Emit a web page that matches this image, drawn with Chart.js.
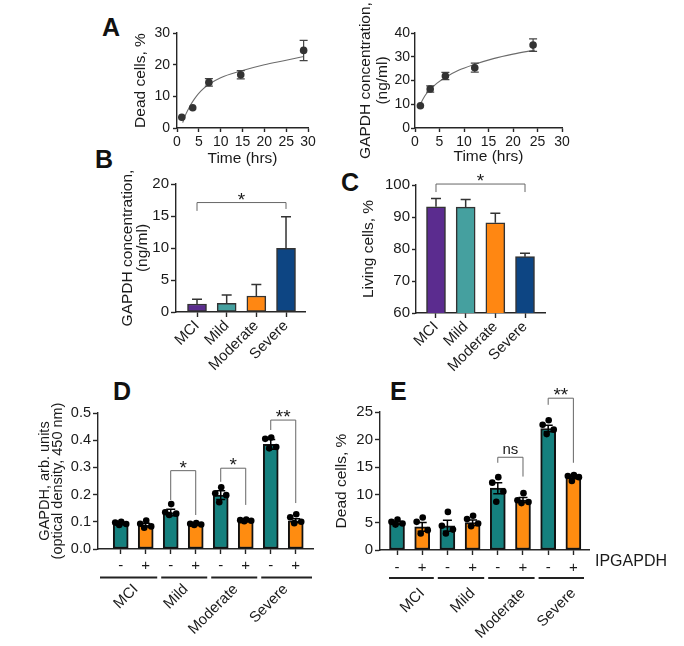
<!DOCTYPE html>
<html>
<head>
<meta charset="utf-8">
<script src="https://cdn.jsdelivr.net/npm/chart.js@4.4.1/dist/chart.umd.min.js"></script>
<style>
  body { margin:0; width:684px; height:646px; background:#fff; position:relative; overflow:hidden; }
  canvas { position:absolute; }
  .tag { position:absolute; font:bold 25px 'Liberation Sans', Arial, sans-serif; line-height:25px; color:#111; }
</style>
</head>
<body>
<div class="tag" style="left:102px;top:15px">A</div>
<div class="tag" style="left:95px;top:147px">B</div>
<div class="tag" style="left:341px;top:170px">C</div>
<div class="tag" style="left:113px;top:379px">D</div>
<div class="tag" style="left:390px;top:379px">E</div>
<canvas id="a1"></canvas>
<canvas id="a2"></canvas>
<canvas id="b"></canvas>
<canvas id="c"></canvas>
<canvas id="d"></canvas>
<canvas id="e"></canvas>
<script>
// ---- values ----
const timeA1 = [1.1, 3.6, 7.3, 14.6, 29.0];
const deadA1 = [3.4, 6.4, 14.4, 16.8, 24.5];
const deadA1Sem = [0, 0, 1.2, 1.3, 3.2];
const fitTimeA1 = [1.3, 2, 3, 4, 5.5, 7.3, 10, 14.6, 20, 25, 29];
const fitDeadA1 = [1.7, 4.3, 7.0, 9.2, 11.7, 13.8, 15.9, 18.0, 20.0, 21.4, 22.6];

const timeA2 = [1.1, 3.1, 6.2, 12.2, 24.1];
const gapdhA2 = [9.4, 16.4, 21.9, 25.4, 34.9];
const gapdhA2Sem = [0, 1.3, 1.5, 1.9, 2.6];
const fitTimeA2 = [0.9, 2, 3, 4.5, 6.2, 9, 12.2, 16, 20, 24.5];
const fitGapdhA2 = [9.3, 13.5, 16.0, 18.9, 21.3, 24.4, 26.8, 29.2, 31.1, 32.8];

const stages = ['MCI', 'Mild', 'Moderate', 'Severe'];
const gapdhB = [1.25, 1.35, 2.5, 9.95];
const gapdhBSd = [0.75, 1.3, 1.8, 4.95];
const livingC = [93.2, 93.1, 88.2, 77.6];
const livingCSd = [2.6, 2.4, 3.0, 1.1];

const ipgapdh = ['-', '+', '-', '+', '-', '+', '-', '+'];
const gapdhD = [0.093, 0.088, 0.134, 0.091, 0.198, 0.104, 0.385, 0.104];
const gapdhDSem = [0.004, 0.007, 0.012, 0.002, 0.016, 0.002, 0.018, 0.007];
const gapdhDPts = [
  [0.1, 0.097, 0.092, 0.088], [0.105, 0.093, 0.083, 0.078],
  [0.165, 0.135, 0.13, 0.125], [0.095, 0.093, 0.09, 0.088],
  [0.227, 0.205, 0.198, 0.172], [0.108, 0.106, 0.104, 0.102],
  [0.41, 0.405, 0.375, 0.37], [0.128, 0.117, 0.1, 0.095]
];
const deadE = [4.9, 4.2, 4.4, 4.95, 11.2, 9.05, 22.0, 13.2];
const deadESem = [0.3, 0.8, 1.0, 0.5, 1.0, 0.45, 0.6, 0.3];
const deadEPts = [
  [5.5, 5.1, 4.8, 4.6], [5.9, 5.1, 3.6, 3.0],
  [6.9, 4.4, 3.7, 3.0], [6.2, 5.6, 4.8, 4.3],
  [13.2, 12.2, 10.6, 8.75], [10.3, 9.0, 8.7, 8.5],
  [23.5, 22.7, 21.8, 21.0], [13.6, 13.4, 13.2, 12.5]
];

// brackets: from bar, to bar, level, left foot, right foot, mark
const sigB = [[0, 3, 17.1, 15.8, 16.1, '*']];
const sigC = [[0, 3, 100.3, 97.8, 97.8, '*']];
const sigD = [[2, 3, 0.288, 0.18, 0.125, '*'], [4, 5, 0.297, 0.247, 0.162, '*'], [6, 7, 0.474, 0.4375, 0.169, '**']];
const sigE = [[4, 5, 16.8, 15.8, 13.3, 'ns'], [6, 7, 27.5, 26.3, 15.8, '**']];

const jitter = [0.02, -0.22, 0.22, -0.06];

// ---- drawing ----
const FONT = "'Liberation Sans', Arial, sans-serif";
const AX = '#262626';
Chart.defaults.font.family = FONT;
Chart.defaults.color = '#1a1a1a';
Chart.defaults.animation = false;
Chart.defaults.plugins.legend.display = false;
Chart.defaults.plugins.tooltip.enabled = false;

const TEAL = '#15807e', ORANGE = '#ff8c10';
const colB = ['#5b2c8f', '#45a09f', '#ff8712', '#0d4583'];

const notes = {};

const marks = {
  id: 'marks',
  afterDatasetDraw(chart, args) {
    const n = notes[chart.canvas.id];
    if (!n || !n.err || args.index !== n.err.after) return;
    const { ctx, scales: { x, y } } = chart;
    const e = n.err;
    ctx.save();
    ctx.strokeStyle = e.color; ctx.lineWidth = e.width;
    e.x.forEach((xv, i) => {
      const d = e.d[i];
      if (!d) return;
      const px = x.getPixelForValue(xv);
      const hi = y.getPixelForValue(e.y[i] + d);
      const lo = y.getPixelForValue(e.upOnly ? e.y[i] : e.y[i] - d);
      ctx.beginPath();
      ctx.moveTo(px, lo); ctx.lineTo(px, hi);
      ctx.moveTo(px - e.cap, hi); ctx.lineTo(px + e.cap, hi);
      if (!e.upOnly) { ctx.moveTo(px - e.cap, lo); ctx.lineTo(px + e.cap, lo); }
      ctx.stroke();
    });
    ctx.restore();
  },
  afterDraw(chart) {
    const n = notes[chart.canvas.id];
    if (!n) return;
    const { ctx, scales: { x, y }, chartArea: ca } = chart;
    ctx.save();
    (n.sig || []).forEach(([a, b, lv, f1, f2, mark]) => {
      const x1 = x.getPixelForValue(a), x2 = x.getPixelForValue(b), yy = y.getPixelForValue(lv);
      ctx.strokeStyle = '#666'; ctx.lineWidth = 1;
      ctx.beginPath();
      ctx.moveTo(x1, y.getPixelForValue(f1)); ctx.lineTo(x1, yy);
      ctx.lineTo(x2, yy); ctx.lineTo(x2, y.getPixelForValue(f2));
      ctx.stroke();
      const star = mark !== 'ns';
      ctx.fillStyle = '#1a1a1a'; ctx.textAlign = 'center'; ctx.textBaseline = 'alphabetic';
      ctx.font = (star ? '19px ' : '15px ') + FONT;
      ctx.fillText(mark, (x1 + x2) / 2, yy + (star ? 3 : -3));
    });
    if (n.groups) {
      const g = n.groups;
      ctx.font = g.fs + 'px ' + FONT;
      ctx.fillStyle = '#1a1a1a';
      ctx.strokeStyle = '#222'; ctx.lineWidth = 2;
      stages.forEach((s, k) => {
        const a = k === 0 ? ca.left + g.padL : x.getPixelForValue(2 * k - 0.5) + 3;
        const b = k === stages.length - 1 ? ca.right + g.padR : x.getPixelForValue(2 * k + 1.5) - 1;
        const ly = ca.bottom + g.lineDy;
        ctx.beginPath(); ctx.moveTo(a, ly); ctx.lineTo(b, ly); ctx.stroke();
        const cx = (x.getPixelForValue(2 * k) + x.getPixelForValue(2 * k + 1)) / 2;
        ctx.save();
        ctx.translate(cx + g.dx, ca.bottom + g.labelDy);
        ctx.rotate(-Math.PI / 4);
        ctx.textAlign = 'right'; ctx.textBaseline = 'middle';
        ctx.fillText(s, 0, 0);
        ctx.restore();
      });
    }
    if (n.side) {
      ctx.font = n.side.fs + 'px ' + FONT;
      ctx.fillStyle = '#1a1a1a'; ctx.textAlign = 'left'; ctx.textBaseline = 'middle';
      ctx.fillText(n.side.text, ca.right + n.side.dx, ca.bottom + n.side.dy);
    }
    ctx.restore();
  }
};

// place a canvas so that its chart area lands on L,T,R,B of the page
function frame(id, f) {
  const cv = document.getElementById(id);
  const left = Math.round(f.titleX - f.lh / 2);
  const w = Math.round(f.right - left), h = Math.round(f.bottom - f.top);
  cv.width = w; cv.height = h;
  cv.style.left = left + 'px'; cv.style.top = f.top + 'px';
  cv.style.width = w + 'px'; cv.style.height = h + 'px';
  return {
    lh: f.lh,
    padding: { left: 0, top: f.T - f.top, right: left + w - f.R, bottom: 0 },
    yw: f.L - left,
    xh: f.top + h - f.B
  };
}

function yAxis(fr, o) {
  return {
    type: 'linear', min: o.min, max: o.max, bounds: 'data',
    border: { color: AX, width: 1.4 },
    grid: { drawOnChartArea: false, color: AX, tickLength: o.tl, tickWidth: 1.4 },
    ticks: { stepSize: o.step, font: { size: o.fs }, padding: o.pad, callback: o.fmt || (v => v) },
    title: { display: true, text: o.title, font: { size: o.tfs, lineHeight: fr.lh + 'px' }, padding: 0 },
    afterFit(s) { s.width = fr.yw; }
  };
}

function xLin(fr, o) {
  return {
    type: 'linear', min: o.min, max: o.max, bounds: 'data', offset: false,
    border: { color: AX, width: 1.4 },
    grid: { drawOnChartArea: false, offset: false, color: AX, tickLength: 4, tickWidth: 1.4 },
    ticks: { stepSize: o.step, font: { size: o.fs }, padding: 2, maxRotation: 0, autoSkip: false },
    title: { display: true, text: o.title, font: { size: o.tfs, lineHeight: fr.lh + 'px' }, padding: 0 },
    afterFit(s) { s.height = fr.xh; }
  };
}

function xCat(fr, o) {
  return {
    type: 'linear', min: o.min, max: o.max, bounds: 'data', offset: false,
    border: { color: AX, width: 1.4 },
    grid: { drawOnChartArea: false, offset: false, color: AX, tickLength: o.tl, tickWidth: 1.4 },
    afterBuildTicks(s) { s.ticks = o.labels.map((_, i) => ({ value: i })); },
    ticks: { autoSkip: false, minRotation: o.rot, maxRotation: o.rot, padding: o.pad, font: { size: o.fs },
             callback: v => o.labels[Math.round(v)] },
    afterFit(s) { s.height = fr.xh; }
  };
}

const pts = (xs, ys) => xs.map((t, i) => ({ x: t, y: ys[i] }));
const idx = n => Array.from({ length: n }, (_, i) => i);
const dots = vals => vals.flatMap((p, i) => p.map((v, k) => ({ x: i + jitter[k], y: v })));

// ---- A, left ----
const fA1 = frame('a1', { titleX: 140.3, lh: 17, top: 0, right: 332, bottom: 166.5, L: 177, T: 33, R: 308, B: 128 });
notes.a1 = { err: { after: 0, x: timeA1, y: deadA1, d: deadA1Sem, cap: 4, color: '#444', width: 1.2 } };
new Chart('a1', {
  type: 'scatter',
  data: { datasets: [
    { type: 'line', data: pts(fitTimeA1, fitDeadA1), borderColor: '#6b6b6b', borderWidth: 1.1, pointRadius: 0, cubicInterpolationMode: 'monotone', order: 2 },
    { data: pts(timeA1, deadA1), pointRadius: 3.8, backgroundColor: '#333', borderWidth: 0, order: 0 }
  ] },
  options: {
    responsive: false, layout: { padding: fA1.padding },
    scales: {
      x: xLin(fA1, { min: 0, max: 30, step: 5, title: 'Time (hrs)', fs: 14, tfs: 15.5 }),
      y: yAxis(fA1, { min: 0, max: 30, step: 10, title: 'Dead cells, %', fs: 14, tfs: 15.5, tl: 4, pad: 3 })
    }
  },
  plugins: [marks]
});

// ---- A, right ----
const fA2 = frame('a2', { titleX: 365, lh: 17, top: 0, right: 585, bottom: 164.5, L: 415, T: 33, R: 562, B: 128 });
notes.a2 = { err: { after: 0, x: timeA2, y: gapdhA2, d: gapdhA2Sem, cap: 4, color: '#444', width: 1.2 } };
new Chart('a2', {
  type: 'scatter',
  data: { datasets: [
    { type: 'line', data: pts(fitTimeA2, fitGapdhA2), borderColor: '#6b6b6b', borderWidth: 1.1, pointRadius: 0, cubicInterpolationMode: 'monotone', order: 2 },
    { data: pts(timeA2, gapdhA2), pointRadius: 3.8, backgroundColor: '#333', borderWidth: 0, order: 0 }
  ] },
  options: {
    responsive: false, layout: { padding: fA2.padding },
    scales: {
      x: xLin(fA2, { min: 0, max: 30, step: 5, title: 'Time (hrs)', fs: 14, tfs: 15.5 }),
      y: yAxis(fA2, { min: 0, max: 40, step: 10, title: ['GAPDH concentration,', '(ng/ml)'], fs: 14, tfs: 15.5, tl: 4, pad: 1 })
    }
  },
  plugins: [marks]
});

// ---- B ----
const fB = frame('b', { titleX: 127, lh: 15, top: 160, right: 322, bottom: 372, L: 176, T: 184, R: 305, B: 312 });
notes.b = { err: { after: 0, x: idx(4), y: gapdhB, d: gapdhBSd, cap: 5, color: '#333', width: 1.5, upOnly: true }, sig: sigB };
new Chart('b', {
  type: 'bar',
  data: { datasets: [
    { data: pts(idx(4), gapdhB), backgroundColor: colB, borderColor: '#333', borderWidth: 1.5, borderSkipped: false, barThickness: 19 }
  ] },
  options: {
    responsive: false, layout: { padding: fB.padding },
    scales: {
      x: xCat(fB, { min: -0.708, max: 3.64, labels: stages, rot: 45, pad: 0, fs: 15, tl: 5 }),
      y: yAxis(fB, { min: 0, max: 20, step: 5, title: ['GAPDH concentration,', '(ng/ml)'], fs: 15, tfs: 15.5, tl: 5, pad: 2 })
    }
  },
  plugins: [marks]
});

// ---- C ----
const fC = frame('c', { titleX: 368, lh: 17, top: 168, right: 562, bottom: 372, L: 416, T: 185, R: 545, B: 313 });
notes.c = { err: { after: 0, x: idx(4), y: livingC, d: livingCSd, cap: 5, color: '#333', width: 1.5, upOnly: true }, sig: sigC };
new Chart('c', {
  type: 'bar',
  data: { datasets: [
    { data: pts(idx(4), livingC), backgroundColor: colB, borderColor: '#333', borderWidth: 1.5, borderSkipped: false, barThickness: 19 }
  ] },
  options: {
    responsive: false, layout: { padding: fC.padding },
    scales: {
      x: xCat(fC, { min: -0.674, max: 3.674, labels: stages, rot: 45, pad: 0, fs: 15, tl: 5 }),
      y: yAxis(fC, { min: 60, max: 100, step: 10, title: 'Living cells, %', fs: 15, tfs: 15.5, tl: 4, pad: 2 })
    }
  },
  plugins: [marks]
});

// ---- D ----
const barCols = ipgapdh.map(s => s === '-' ? TEAL : ORANGE);
const fD = frame('d', { titleX: 44.4, lh: 13, top: 396, right: 332, bottom: 640, L: 98, T: 413, R: 313, B: 549 });
notes.d = {
  err: { after: 0, x: idx(8), y: gapdhD, d: gapdhDSem, cap: 4.5, color: '#000', width: 1.5 },
  sig: sigD,
  groups: { fs: 15, padL: 2, padR: -1, lineDy: 28.5, labelDy: 38, dx: 2.6 }
};
new Chart('d', {
  type: 'bar',
  data: { datasets: [
    { data: pts(idx(8), gapdhD), backgroundColor: barCols, borderColor: '#111', borderWidth: 2, borderSkipped: false, barThickness: 15, order: 1 },
    { type: 'scatter', data: dots(gapdhDPts), pointRadius: 3.3, backgroundColor: '#000', borderWidth: 0, order: 0 }
  ] },
  options: {
    responsive: false, layout: { padding: fD.padding },
    scales: {
      x: xCat(fD, { min: -0.908, max: 7.69, labels: ipgapdh, rot: 0, pad: 2.5, fs: 15, tl: 5 }),
      y: yAxis(fD, { min: 0, max: 0.5, step: 0.1, title: ['GAPDH, arb. units', '(optical density, 450 nm)'], fs: 14.5, tfs: 14.5, tl: 5, pad: 2, fmt: v => v.toFixed(1) })
    }
  },
  plugins: [marks]
});

// ---- E ----
const fE = frame('e', { titleX: 341, lh: 17, top: 380, right: 684, bottom: 640, L: 380, T: 412, R: 589, B: 550 });
notes.e = {
  err: { after: 0, x: idx(8), y: deadE, d: deadESem, cap: 4.5, color: '#000', width: 1.5 },
  sig: sigE,
  groups: { fs: 15, padL: 9, padR: -5, lineDy: 28, labelDy: 41, dx: 12.6 },
  side: { text: 'IPGAPDH', fs: 16, dx: 6, dy: 12 }
};
new Chart('e', {
  type: 'bar',
  data: { datasets: [
    { data: pts(idx(8), deadE), backgroundColor: barCols, borderColor: '#111', borderWidth: 2, borderSkipped: false, barThickness: 15, order: 1 },
    { type: 'scatter', data: dots(deadEPts), pointRadius: 3.3, backgroundColor: '#000', borderWidth: 0, order: 0 }
  ] },
  options: {
    responsive: false, layout: { padding: fE.padding },
    scales: {
      x: xCat(fE, { min: -0.675, max: 7.62, labels: ipgapdh, rot: 0, pad: 3.5, fs: 15, tl: 5 }),
      y: yAxis(fE, { min: 0, max: 25, step: 5, title: 'Dead cells, %', fs: 15, tfs: 15.5, tl: 5, pad: 2 })
    }
  },
  plugins: [marks]
});
</script>
</body>
</html>
